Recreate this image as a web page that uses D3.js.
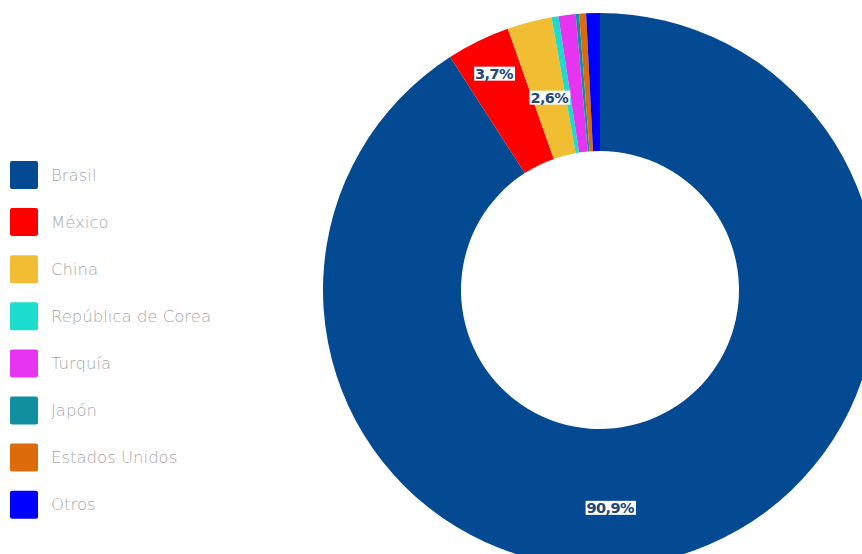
<!DOCTYPE html>
<html>
<head>
<meta charset="utf-8">
<script src="https://cdn.jsdelivr.net/npm/d3@7"></script>
<style>
  body { margin: 0; background: #fff; }
  svg { display: block; }
</style>
</head>
<body>
<div id="chart"></div>
<script>
// datos (porcentaje)
const countries = ["Brasil", "México", "China", "República de Corea", "Turquía", "Japón", "Estados Unidos", "Otros"];
const shares = [90.9, 3.7, 2.6, 0.4, 1.0, 0.2, 0.4, 0.8];
const colors = ["#034a93", "#ff0000", "#f0bd33", "#1cdccd", "#e535f0", "#10909e", "#dc6b0c", "#0000ff"];
const labelShown = ["90,9%", "3,7%", "2,6%", null, null, null, null, null];

const width = 862, height = 554;
const cx = 600, cy = 290, outerR = 277, innerR = 139;

const svg = d3.select("#chart").append("svg")
    .attr("width", width)
    .attr("height", height);

const data = countries.map((c, i) => ({name: c, value: shares[i], color: colors[i], label: labelShown[i]}));

const pie = d3.pie().value(d => d.value).sort(null);
const arc = d3.arc().innerRadius(innerR).outerRadius(outerR);
const arcs = pie(data);

const g = svg.append("g").attr("transform", `translate(${cx},${cy})`);

g.selectAll("path.slice")
    .data(arcs)
    .join("path")
    .attr("class", "slice")
    .attr("d", arc)
    .attr("fill", d => d.data.color);

// etiquetas: las pequeñas cerca del borde exterior, la grande abajo
function labelPos(d, i) {
    let a = (d.startAngle + d.endAngle) / 2, r;
    if (i == 0) { a = Math.PI * 0.985; r = 218; }
    else if (i == 1) r = 241;
    else r = 199;
    return [Math.sin(a) * r, -Math.cos(a) * r];
}

const lab = g.selectAll("g.lab")
    .data(arcs.filter(d => d.data.label))
    .join("g")
    .attr("class", "lab")
    .attr("transform", (d, i) => `translate(${labelPos(d, i)})`);

lab.append("text")
    .attr("text-anchor", "middle")
    .attr("dy", "0.35em")
    .style("font-family", "'DejaVu Sans', sans-serif")
    .style("font-weight", "bold")
    .style("font-size", "14.5px")
    .style("letter-spacing", "-0.6px")
    .attr("fill", "#22477a")
    .text(d => d.data.label);

lab.each(function() {
    const t = d3.select(this).select("text");
    const b = t.node().getBBox();
    d3.select(this).insert("rect", "text")
        .attr("x", b.x - 1)
        .attr("y", b.y + 1)
        .attr("width", b.width + 2)
        .attr("height", b.height - 2)
        .attr("fill", "#fff");
});

// leyenda
const legend = svg.append("g").attr("transform", "translate(10,161)");
const rows = legend.selectAll("g.row")
    .data(data)
    .join("g")
    .attr("class", "row")
    .attr("transform", (d, i) => `translate(0,${i * 47.1})`);

rows.append("rect")
    .attr("width", 28)
    .attr("height", 28)
    .attr("rx", 2)
    .attr("fill", d => d.color);

rows.append("text")
    .attr("x", 41)
    .attr("y", 14)
    .attr("dy", "0.35em")
    .style("font-family", "'DejaVu Sans', sans-serif")
    .style("font-weight", "200")
    .style("font-size", "16.5px")
    .attr("fill", "#a8a8a8")
    .text(d => d.name);
</script>
</body>
</html>
